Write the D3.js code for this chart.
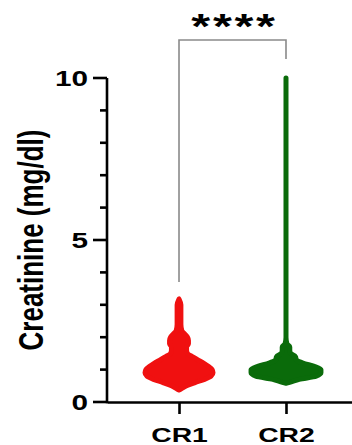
<!DOCTYPE html>
<html>
<head>
<meta charset="utf-8">
<script src="https://cdn.jsdelivr.net/npm/d3@7"></script>
<style>
  body { margin: 0; background: #fff; }
  svg { display: block; font-family: "Liberation Sans", Arial, sans-serif; }
</style>
</head>
<body>
<div id="chart"></div>
<script>
// groups and colours
const groups = ['CR1', 'CR2'];
const groupColors = ['#f01010', '#0a6b0a'];

// creatinine bins (mg/dl) and how many patients fall in each
const cr1Bins = [0.37, 0.4, 0.5, 0.6, 0.7, 0.8, 0.9, 1.0, 1.1, 1.2, 1.3, 1.4, 1.5, 1.6, 1.7, 1.8, 1.9, 2.0, 2.1, 2.2, 2.4, 2.6, 2.8, 3.0, 3.18];
const cr1Counts = [0, 2, 8, 17, 27, 34, 36, 35, 31, 26, 20, 14, 9, 8, 8, 10, 10, 9, 6, 3, 2, 2, 2, 2, 0];
const cr2Bins = [0.58, 0.6, 0.7, 0.8, 0.9, 1.0, 1.1, 1.2, 1.3, 1.4, 1.5, 1.6, 1.7, 1.8, 2.0, 10.0];
const cr2Counts = [0, 3, 14, 32, 37, 37, 30, 18, 11, 10, 5, 4, 4, 1, 0, 0];

const yTicks = [0, 5, 10];
const yMinorTicks = [1, 2, 3, 4, 6, 7, 8, 9];
const yTitle = 'Creatinine (mg/dl)';
const signif = '****';

const width = 352, height = 445;
const stretch = 1.35; // the reference is drawn wider than tall
const svg = d3.select('#chart').append('svg').attr('width', width).attr('height', height);

const x = d3.scalePoint().domain(groups).range([107, 358]).padding(0.673);
const y = d3.scaleLinear().domain([0, 10]).range([402, 78]);
const w = d3.scaleLinear().domain([0, 36]).range([0, 34]);

// violins
const series = [
  { name: 'CR1', bins: cr1Bins, counts: cr1Counts },
  { name: 'CR2', bins: cr2Bins, counts: cr2Counts }
];
series.forEach((s, i) => {
  const pts = s.bins.map((v, j) => ({ v, c: s.counts[j] }));
  const cx = x(s.name);
  const area = d3.area().curve(d3.curveMonotoneY)
    .y(d => y(d.v)).x0(d => cx - w(d.c)).x1(d => cx + w(d.c));
  svg.append('path').attr('d', area(pts))
    .attr('fill', groupColors[i]).attr('stroke', groupColors[i])
    .attr('stroke-width', 5).attr('stroke-linejoin', 'round');
});

// y axis: line plus minor and major ticks
const yAxis = svg.append('g').attr('transform', 'translate(107,0)');
yAxis.append('line')
  .attr('x1', 0).attr('x2', 0).attr('y1', y(0) + 1.3).attr('y2', y(10))
  .attr('stroke', '#000').attr('stroke-width', 2.6);
yAxis.selectAll('.minor').data(yMinorTicks).join('line').attr('class', 'minor')
  .attr('x1', -7).attr('x2', 0).attr('y1', d => y(d)).attr('y2', d => y(d))
  .attr('stroke', '#000').attr('stroke-width', 2.6);
yAxis.selectAll('.major').data(yTicks).join('line').attr('class', 'major')
  .attr('x1', -14).attr('x2', 0).attr('y1', d => y(d)).attr('y2', d => y(d))
  .attr('stroke', '#000').attr('stroke-width', 2.6);
yAxis.selectAll('.label').data(yTicks).join('text').attr('class', 'label')
  .attr('transform', d => `translate(-19,${y(d)}) scale(${stretch},1)`)
  .attr('dy', '0.36em').attr('text-anchor', 'end')
  .attr('font-size', 22).attr('font-weight', 'bold').attr('fill', '#000')
  .text(d => d);

// x axis
svg.append('g').attr('transform', 'translate(0,402)')
  .call(d3.axisBottom(x).tickSize(12).tickSizeOuter(0))
  .call(g => g.attr('font-family', '"Liberation Sans", Arial, sans-serif'))
  .call(g => g.selectAll('path, line').attr('stroke', '#000').attr('stroke-width', 2.6))
  .call(g => g.selectAll('text').attr('fill', '#000').attr('font-weight', 'bold')
    .attr('font-size', 21).attr('y', null).attr('dy', null)
    .attr('transform', `translate(0,40) scale(${stretch},1)`));

svg.append('text')
  .attr('transform', `translate(43,${(y(0) + y(10)) / 2}) scale(${stretch},1) rotate(-90)`)
  .attr('text-anchor', 'middle').attr('font-size', 26).attr('font-weight', 'bold')
  .text(yTitle);

// significance bracket
const bx1 = x('CR1'), bx2 = x('CR2');
svg.append('path')
  .attr('d', `M${bx1},${282}V40H${bx2}V59`)
  .attr('fill', 'none').attr('stroke', '#8a8a8a').attr('stroke-width', 1.6);
svg.append('text')
  .attr('transform', `translate(${(bx1 + bx2) / 2 + 2},38) scale(${stretch},1)`)
  .attr('text-anchor', 'middle').attr('font-size', 36).attr('font-weight', 'bold')
  .attr('letter-spacing', 2)
  .text(signif);
</script>
</body>
</html>
